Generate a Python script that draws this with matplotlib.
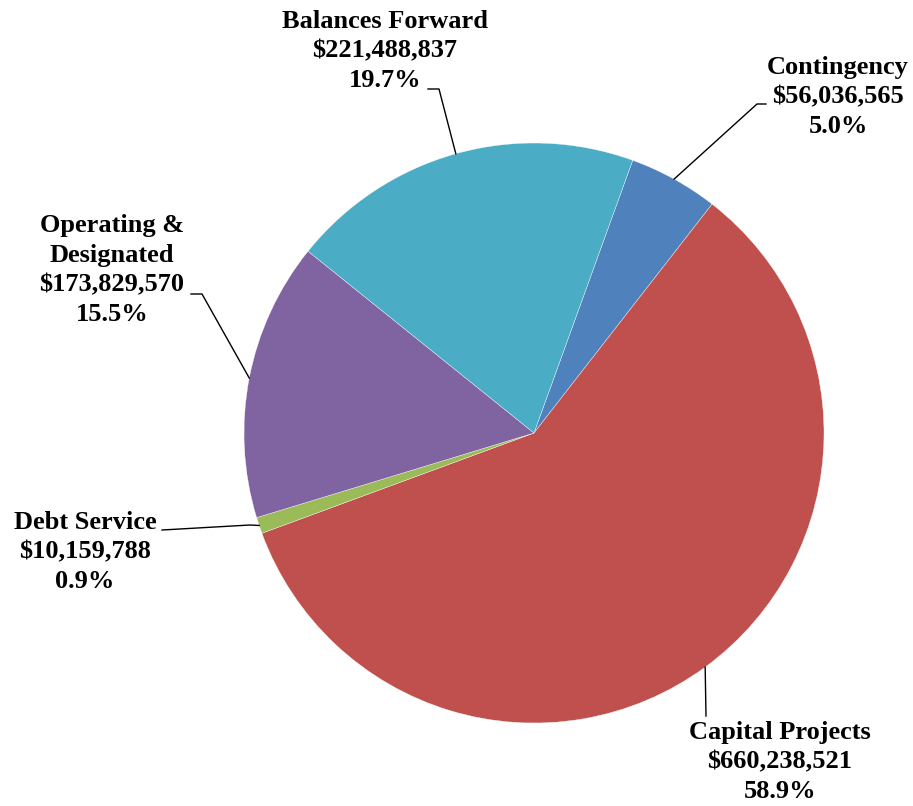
import numpy as np
import matplotlib
matplotlib.use("Agg")
import matplotlib.pyplot as plt

categories = ["Contingency", "Capital Projects", "Debt Service",
              "Operating &\nDesignated", "Balances Forward"]
values = [56036565, 660238521, 10159788, 173829570, 221488837]
colors = ["#4F81BD", "#C0504D", "#9BBB59", "#8064A2", "#4BACC6"]

W, H = 913, 806
CX, CY, R = 534, 433, 290  # pixel centre and radius


def px(x, y):
    return (x - CX) / R, (CY - y) / R


fig = plt.figure(figsize=(W / 100, H / 100), dpi=100)
ax = fig.add_axes([0, 0, 1, 1])
wedges, _ = ax.pie(values, colors=colors, startangle=70.1, counterclock=False,
                   radius=1, center=(0, 0),
                   wedgeprops=dict(edgecolor="white", linewidth=0.25))
ax.set_xlim(-CX / R, (W - CX) / R)
ax.set_ylim(-(H - CY) / R, CY / R)
ax.set_aspect("equal")
ax.axis("off")

total = sum(values)
# label layout: text centre (px), elbow point (px), horizontal stub end (px)
layout = [
    ((838, 97), (757, 104), (766, 104)),
    ((780, 762), (706, 716), (706, 716)),
    ((85, 552), (250, 525), (162, 530)),
    ((112, 270), (202, 294), (191, 294)),
    ((385, 51), (439, 89), (428, 89)),
]

font = dict(family=["Liberation Serif", "DejaVu Serif"], fontweight="bold",
            fontsize=19, color="black")

for w, cat, val, (tc, elbow, stub) in zip(wedges, categories, values, layout):
    mid = np.deg2rad((w.theta1 + w.theta2) / 2)
    ex, ey = np.cos(mid), np.sin(mid)
    bx, by = px(*elbow)
    sx, sy = px(*stub)
    ax.plot([ex, bx, sx], [ey, by, sy], color="black", lw=1.0)
    label = f"{cat}\n${val:,.0f}\n{val / total * 100:.1f}%"
    tx, ty = px(*tc)
    ax.text(tx, ty, label, ha="center", va="center", multialignment="center",
            linespacing=1.37, **font)

fig.savefig("out.png", dpi=100, facecolor="white")
